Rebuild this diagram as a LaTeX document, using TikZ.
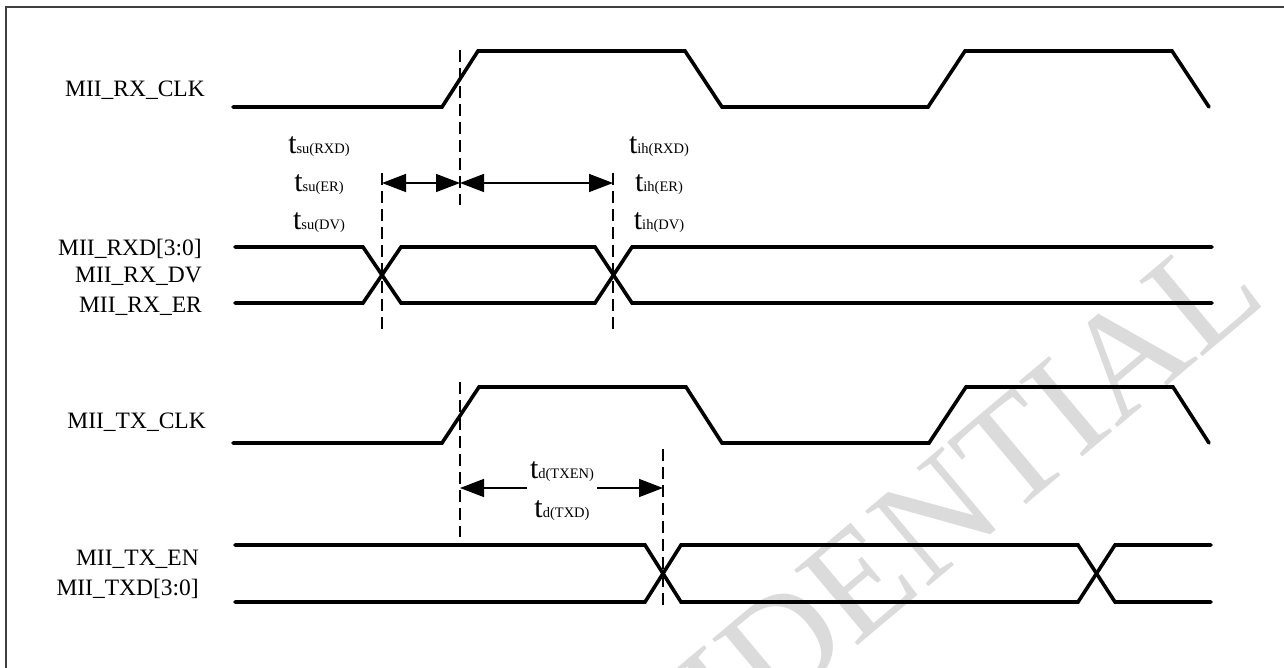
\documentclass[tikz,border=0pt]{standalone}
\usepackage{fontspec}
\setmainfont{Liberation Serif}
\usetikzlibrary{arrows.meta}
\begin{document}
\begin{tikzpicture}[x=1pt,y=-1pt,
  sig/.style={line width=3.6pt,line cap=round,line join=miter},
  guide/.style={line width=1.5pt,dash pattern=on 12pt off 6pt},
  dim/.style={line width=1.5pt,{Triangle[length=24pt,width=18pt]}-{Triangle[length=24pt,width=18pt]}},
  dimr/.style={line width=1.5pt,-{Triangle[length=24pt,width=18pt]}},
  lbl/.style={font=\fontsize{23.5}{26}\selectfont,inner sep=0pt,anchor=base east},
  tl/.style={inner sep=0pt,anchor=base}]
\useasboundingbox (0,0) rectangle (1284,668);
\fill[white] (0,0) rectangle (1284,668);
% watermark
\begin{scope}
\clip (0,0) rectangle (1284,668);
\node[rotate=40,text=black!14,font=\fontsize{150}{150}\selectfont,inner sep=0pt,anchor=base east] (wm) at (1270,300) {CONFIDENTIAL};
\end{scope}
% frame
\draw[line width=1.4pt,black!75] (6,668) -- (6,7) -- (1284,7);
% signal names
\node[lbl] (rxclk) at (205,97) {MII\_RX\_CLK};
\node[lbl] (rxd) at (202,255) {MII\_RXD[3:0]};
\node[lbl] (rxdv) at (202,283) {MII\_RX\_DV};
\node[lbl] (rxer) at (202,312) {MII\_RX\_ER};
\node[lbl] (txclk) at (206,428) {MII\_TX\_CLK};
\node[lbl] (txen) at (199,565) {MII\_TX\_EN};
\node[lbl] (txd) at (199,595) {MII\_TXD[3:0]};
% timing labels
\newcommand{\tlab}[1]{{\fontsize{30}{30}\selectfont t}{\fontsize{14.5}{15}\selectfont #1}}
\node[tl] (tsurxd) at (319,154) {\tlab{su(RXD)}};
\node[tl] (tsuer) at (319,192) {\tlab{su(ER)}};
\node[tl] (tsudv) at (319,230) {\tlab{su(DV)}};
\node[tl] (tihrxd) at (659,154) {\tlab{ih(RXD)}};
\node[tl] (tiher) at (659,192) {\tlab{ih(ER)}};
\node[tl] (tihdv) at (659,230) {\tlab{ih(DV)}};
\node[tl] (tdtxen) at (562,478) {\tlab{d(TXEN)}};
\node[tl] (tdtxd) at (562,517) {\tlab{d(TXD)}};
% RX clock
\draw[sig] (233,107) -- (442,107) -- (478,51) -- (685,51) -- (722,107) -- (928,107) -- (965,51) -- (1172,51) -- (1209,107);
% RX data
\draw[sig] (235,247) -- (363,247) -- (401,303) -- (595,303) -- (632,247) -- (1212,247);
\draw[sig] (235,303) -- (363,303) -- (401,247) -- (595,247) -- (632,303) -- (1212,303);
% TX clock
\draw[sig] (233,443) -- (442,443) -- (479,387) -- (686,387) -- (722,443) -- (929,443) -- (966,387) -- (1173,387) -- (1209,443);
% TX data
\draw[sig] (235,545) -- (645,545) -- (681,602) -- (1078,602) -- (1115,545) -- (1211,545);
\draw[sig] (235,602) -- (645,602) -- (681,545) -- (1078,545) -- (1115,602) -- (1211,602);
% guide coordinates
\coordinate (g1t) at (460,50);  \coordinate (g1b) at (460,205);
\coordinate (g2t) at (382,173); \coordinate (g2b) at (382,333);
\coordinate (g3t) at (613,173); \coordinate (g3b) at (613,333);
\coordinate (g4t) at (460,382); \coordinate (g4b) at (460,537);
\coordinate (g5t) at (663,449); \coordinate (g5b) at (663,607);
\draw[guide] (g1t) -- (g1b);
\draw[guide] (g2t) -- (g2b);
\draw[guide] (g3t) -- (g3b);
\draw[guide] (g4t) -- (g4b);
\draw[guide] (g5t) -- (g5b);
% dimension arrows
\coordinate (a1) at (382,183); \coordinate (a2) at (460,183); \coordinate (a3) at (613,183);
\draw[dim] (a1) -- (a2);
\draw[dim] (a2) -- (a3);
\coordinate (b1) at (460,488); \coordinate (b1e) at (527,488);
\coordinate (b2s) at (597,488); \coordinate (b2) at (663,488);
\draw[dimr] (b1e) -- (b1);
\draw[dimr] (b2s) -- (b2);
\end{tikzpicture}
\end{document}
